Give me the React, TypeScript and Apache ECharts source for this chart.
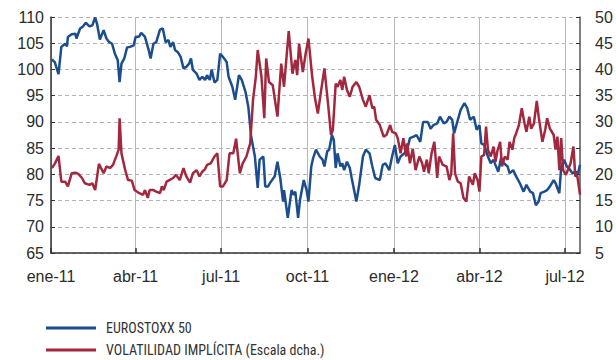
import React, { useEffect, useRef } from "react";
import * as echarts from "echarts";

const monthNames = ["ene", "feb", "mar", "abr", "may", "jun", "jul", "ago", "sep", "oct", "nov", "dic"];
const tickDates = ["2011-01-01", "2011-04-01", "2011-07-01", "2011-10-01", "2012-01-01", "2012-04-01", "2012-07-01"];
const xMin = "2011-01-01";
const xMax = "2012-07-17";

const leftTicks = { min: 65, max: 110, step: 5 };
const rightTicks = { min: 5, max: 50, step: 5 };

const euroName = "EUROSTOXX 50";
const volName = "VOLATILIDAD IMPLÍCITA (Escala dcha.)";

const euroDates = [
  "2011-01-02","2011-01-05","2011-01-09","2011-01-12","2011-01-16","2011-01-18","2011-01-19","2011-01-23","2011-01-27","2011-01-28",
  "2011-02-01","2011-02-04","2011-02-07","2011-02-11","2011-02-14","2011-02-17","2011-02-19","2011-02-22","2011-02-26","2011-03-01",
  "2011-03-04","2011-03-07","2011-03-10","2011-03-13","2011-03-15","2011-03-17","2011-03-20","2011-03-23","2011-03-26","2011-03-30",
  "2011-04-01","2011-04-05","2011-04-07","2011-04-11","2011-04-15","2011-04-17","2011-04-20","2011-04-23","2011-04-27","2011-04-30",
  "2011-05-03","2011-05-06","2011-05-08","2011-05-11","2011-05-13","2011-05-16","2011-05-19","2011-05-22","2011-05-25","2011-05-28",
  "2011-05-30","2011-06-01","2011-06-05","2011-06-08","2011-06-11","2011-06-14","2011-06-16","2011-06-19","2011-06-21","2011-06-24",
  "2011-06-27","2011-06-30","2011-07-03","2011-07-07","2011-07-09","2011-07-13","2011-07-16","2011-07-20","2011-07-23","2011-07-27",
  "2011-07-30","2011-08-02","2011-08-06","2011-08-09","2011-08-11","2011-08-15","2011-08-17","2011-08-20","2011-08-23","2011-08-27",
  "2011-08-30","2011-09-02","2011-09-05","2011-09-06","2011-09-10","2011-09-14","2011-09-16","2011-09-18","2011-09-21","2011-09-23",
  "2011-09-27","2011-09-30","2011-10-02","2011-10-05","2011-10-07","2011-10-10","2011-10-14","2011-10-17","2011-10-19","2011-10-22",
  "2011-10-24","2011-10-27","2011-10-29","2011-10-31","2011-11-02","2011-11-05","2011-11-07","2011-11-09","2011-11-12","2011-11-15",
  "2011-11-17","2011-11-22","2011-11-25","2011-11-29","2011-12-02","2011-12-06","2011-12-09","2011-12-12","2011-12-17","2011-12-20",
  "2011-12-23","2011-12-27","2011-12-30","2012-01-02","2012-01-05","2012-01-08","2012-01-12","2012-01-15","2012-01-18","2012-01-22",
  "2012-01-25","2012-01-29","2012-02-01","2012-02-06","2012-02-09","2012-02-12","2012-02-16","2012-02-19","2012-02-23","2012-02-26",
  "2012-02-29","2012-03-03","2012-03-05","2012-03-09","2012-03-12","2012-03-16","2012-03-19","2012-03-22","2012-03-26","2012-03-29",
  "2012-04-01","2012-04-03","2012-04-06","2012-04-10","2012-04-13","2012-04-16","2012-04-18","2012-04-21","2012-04-24","2012-04-27",
  "2012-05-01","2012-05-03","2012-05-07","2012-05-10","2012-05-14","2012-05-18","2012-05-21","2012-05-25","2012-05-28","2012-05-31",
  "2012-06-03","2012-06-05","2012-06-09","2012-06-12","2012-06-15","2012-06-19","2012-06-21","2012-06-25","2012-06-27","2012-06-30",
  "2012-07-03","2012-07-05","2012-07-09","2012-07-12","2012-07-15","2012-07-17"
];
const euroValues = [
  101.9,101.4,99.1,104.3,104.9,104.4,106.2,106.7,106.8,105.9,
  107.8,108.2,108.9,108.2,108.4,109.9,108.7,105.7,107.5,105.9,
  105.2,104.9,103.0,101.8,97.6,101.1,102.1,104.2,104.3,104.6,
  106.2,106.3,107.0,106.2,103.7,102.1,104.9,105.2,107.6,107.8,
  105.2,105.6,104.3,105.2,103.7,103.3,102.4,100.2,100.5,101.1,
  102.1,99.9,99.2,98.0,98.6,98.0,98.9,98.0,100.0,97.5,
  98.0,103.0,102.4,101.4,98.6,96.7,94.2,98.9,98.0,95.7,
  92.9,87.2,83.4,77.4,82.8,83.4,77.7,77.7,78.6,79.6,
  82.4,79.3,74.8,77.0,71.7,77.0,76.1,76.7,71.7,75.1,
  78.9,77.0,74.8,81.5,83.1,84.7,83.4,82.8,81.5,84.4,
  84.7,87.5,86.5,81.2,84.0,81.5,82.1,80.8,82.4,81.2,
  79.3,74.8,78.0,83.4,84.7,84.0,81.5,79.3,78.9,81.8,
  82.1,80.8,83.4,85.6,82.1,83.4,84.0,84.7,86.9,87.2,
  87.5,86.2,90.0,90.0,88.7,89.4,89.7,91.0,89.7,90.0,
  91.0,90.4,87.8,90.4,92.3,93.6,92.6,90.4,91.0,88.5,
  89.4,85.9,85.6,83.4,82.1,82.8,81.8,80.5,83.1,82.1,
  81.5,80.2,80.8,79.6,78.3,76.7,78.0,76.7,76.4,74.1,
  74.8,76.4,76.7,77.0,77.7,78.9,78.3,76.4,81.5,82.8,
  81.5,81.2,80.2,80.5,80.2,81.8
];

const volDates = [
  "2011-01-02","2011-01-05","2011-01-09","2011-01-12","2011-01-16","2011-01-19","2011-01-23","2011-01-27","2011-01-30","2011-02-03",
  "2011-02-06","2011-02-11","2011-02-14","2011-02-17","2011-02-21","2011-02-26","2011-03-01","2011-03-05","2011-03-08","2011-03-12",
  "2011-03-14","2011-03-15","2011-03-17","2011-03-21","2011-03-24","2011-03-28","2011-03-31","2011-04-05","2011-04-09","2011-04-11",
  "2011-04-14","2011-04-16","2011-04-20","2011-04-23","2011-04-27","2011-04-29","2011-05-01","2011-05-04","2011-05-07","2011-05-11",
  "2011-05-14","2011-05-18","2011-05-22","2011-05-25","2011-05-29","2011-06-01","2011-06-05","2011-06-08","2011-06-11","2011-06-14",
  "2011-06-16","2011-06-20","2011-06-24","2011-06-27","2011-06-30","2011-07-03","2011-07-07","2011-07-10","2011-07-14","2011-07-17",
  "2011-07-21","2011-07-24","2011-07-28","2011-08-01","2011-08-04","2011-08-07","2011-08-09","2011-08-13","2011-08-16","2011-08-18",
  "2011-08-21","2011-08-25","2011-08-30","2011-09-03","2011-09-06","2011-09-11","2011-09-15","2011-09-18","2011-09-20","2011-09-22",
  "2011-09-26","2011-09-29","2011-10-02","2011-10-06","2011-10-09","2011-10-12","2011-10-15","2011-10-19","2011-10-23","2011-10-26",
  "2011-10-28","2011-10-31","2011-11-02","2011-11-05","2011-11-07","2011-11-09","2011-11-12","2011-11-15","2011-11-18","2011-11-22",
  "2011-11-25","2011-11-29","2011-12-02","2011-12-06","2011-12-09","2011-12-11","2011-12-13","2011-12-17","2011-12-21","2011-12-24",
  "2011-12-28","2011-12-30","2012-01-03","2012-01-05","2012-01-08","2012-01-11","2012-01-14","2012-01-15","2012-01-18","2012-01-21",
  "2012-01-24","2012-01-28","2012-01-31","2012-02-02","2012-02-05","2012-02-07","2012-02-10","2012-02-13","2012-02-16","2012-02-18",
  "2012-02-22","2012-02-26","2012-02-29","2012-03-02","2012-03-04","2012-03-06","2012-03-09","2012-03-12","2012-03-15","2012-03-18",
  "2012-03-21","2012-03-25","2012-03-27","2012-03-30","2012-04-01","2012-04-03","2012-04-06","2012-04-08","2012-04-10","2012-04-13",
  "2012-04-16","2012-04-18","2012-04-20","2012-04-23","2012-04-25","2012-04-28","2012-05-01","2012-05-03","2012-05-06","2012-05-08",
  "2012-05-10","2012-05-13","2012-05-16","2012-05-19","2012-05-21","2012-05-24","2012-05-26","2012-05-29","2012-06-01","2012-06-03",
  "2012-06-07","2012-06-10","2012-06-12","2012-06-15","2012-06-19","2012-06-21","2012-06-23","2012-06-25","2012-06-27","2012-06-29",
  "2012-07-02","2012-07-04","2012-07-07","2012-07-10","2012-07-12","2012-07-14","2012-07-17"
];
const volValues = [
  21.2,22.0,23.5,18.6,18.6,17.7,20.2,20.3,20.1,19.3,
  18.3,18.0,18.3,17.0,22.0,20.2,21.5,21.2,21.8,23.7,
  24.7,30.7,24.0,20.8,18.9,18.8,17.0,16.4,16.1,17.0,
  15.5,17.0,17.0,16.7,16.4,17.7,17.0,18.6,18.9,19.3,
  19.9,18.9,21.2,19.6,18.4,20.2,20.8,19.6,20.5,21.0,
  21.8,22.1,23.4,24.0,17.7,17.7,18.9,24.0,24.0,26.8,
  20.2,22.1,23.4,25.9,34.2,38.6,43.7,38.6,30.7,42.1,
  37.6,37.0,31.0,41.1,36.7,47.3,39.2,41.8,38.9,44.9,
  39.5,43.0,45.9,38.6,34.5,31.6,35.4,40.2,33.2,27.5,
  28.5,37.3,36.7,38.0,36.1,38.6,36.1,34.8,36.7,37.6,
  36.7,34.2,32.9,35.1,32.6,32.9,30.4,29.4,27.2,27.5,
  29.4,28.1,27.8,26.9,24.0,26.9,23.4,25.9,22.1,24.9,
  20.8,23.4,22.1,20.5,22.8,20.2,24.0,26.2,19.3,23.4,
  21.8,21.5,18.9,20.2,27.8,20.2,18.6,18.3,15.5,14.8,
  19.6,18.0,20.2,18.9,16.7,23.4,23.7,29.1,24.7,23.4,
  25.3,22.4,24.4,26.2,21.5,23.4,22.8,26.2,24.7,26.9,
  27.8,29.4,32.6,29.7,28.1,31.0,28.7,29.7,34.0,31.0,
  26.2,28.5,30.7,28.7,27.5,24.7,27.2,20.8,26.9,20.8,
  19.9,20.8,22.1,25.3,19.6,19.9,16.1
];

function toTime(s: string): number {
  const [y, m, d] = s.split("-").map(Number);
  return new Date(y, m - 1, d).getTime();
}

export default function App() {
  const ref = useRef<HTMLDivElement>(null);
  useEffect(() => {
    if (!ref.current) return;
    const chart = echarts.init(ref.current, null, { renderer: "svg" });
    const tickTimes = tickDates.map(toTime);
    const labelFont = "'Liberation Sans', Arial, Helvetica, sans-serif";
    const textColor = "#2b2b2b";
    chart.setOption({
      animation: false,
      backgroundColor: "#ffffff",
      grid: { left: 51, right: 36, top: 17, bottom: 107, outerBoundsMode: "none", containLabel: false },
      legend: {
        orient: "vertical",
        left: 46,
        top: 321,
        padding: 0,
        itemWidth: 50,
        itemHeight: 3,
        itemGap: 8,
        icon: "rect",
        textStyle: {
          fontFamily: "'Liberation Sans Narrow', 'Arial Narrow', 'Roboto Condensed', 'Liberation Sans', sans-serif",
          fontSize: 14,
          lineHeight: 14,
          color: "#333333",
          padding: [0, 0, 0, 5],
        },
        data: [euroName, volName],
      },
      xAxis: {
        type: "value",
        min: toTime(xMin),
        max: toTime(xMax),
        axisLine: { show: true, onZero: false, lineStyle: { color: "#333333", width: 1.5 } },
        axisTick: { show: true, inside: true, length: 5, customValues: tickTimes, lineStyle: { color: "#333333", width: 1.5 } },
        axisLabel: {
          customValues: tickTimes,
          margin: 15,
          fontSize: 16,
          fontFamily: labelFont,
          color: textColor,
          formatter: (v: number) => {
            const d = new Date(v);
            return monthNames[d.getMonth()] + "-" + String(d.getFullYear()).slice(2);
          },
        },
        splitLine: { show: true, lineStyle: { color: "#b8b8b8", width: 1, type: "solid" } },
      },
      yAxis: [
        {
          type: "value",
          min: leftTicks.min,
          max: leftTicks.max,
          interval: leftTicks.step,
          position: "left",
          axisLine: { show: true, lineStyle: { color: "#333333", width: 1.5 } },
          axisTick: { show: true, inside: true, length: 4, lineStyle: { color: "#333333" } },
          axisLabel: { margin: 7, fontSize: 16, fontFamily: labelFont, color: textColor },
          splitLine: { show: true, lineStyle: { color: "#b4b4b4", width: 1, type: [4, 3] } },
        },
        {
          type: "value",
          min: rightTicks.min,
          max: rightTicks.max,
          interval: rightTicks.step,
          position: "right",
          axisLine: { show: true, lineStyle: { color: "#555555", width: 1.5 } },
          axisTick: { show: true, inside: true, length: 4, lineStyle: { color: "#333333" } },
          axisLabel: { margin: 15, fontSize: 16, fontFamily: labelFont, color: textColor },
          splitLine: { show: false },
        },
      ],
      series: [
        {
          name: euroName,
          type: "line",
          yAxisIndex: 0,
          symbol: "none",
          color: "#1c4e8e",
          lineStyle: { width: 2.5, color: "#1c4e8e" },
          data: euroDates.map((d, i) => [toTime(d), euroValues[i]]),
        },
        {
          name: volName,
          type: "line",
          yAxisIndex: 1,
          symbol: "none",
          color: "#a2283f",
          lineStyle: { width: 2.5, color: "#a2283f" },
          data: volDates.map((d, i) => [toTime(d), volValues[i]]),
        },
      ],
    });
    return () => chart.dispose();
  }, []);
  return <div ref={ref} style={{ width: 616, height: 360, position: "absolute", left: 0, top: 0 }} />;
}
